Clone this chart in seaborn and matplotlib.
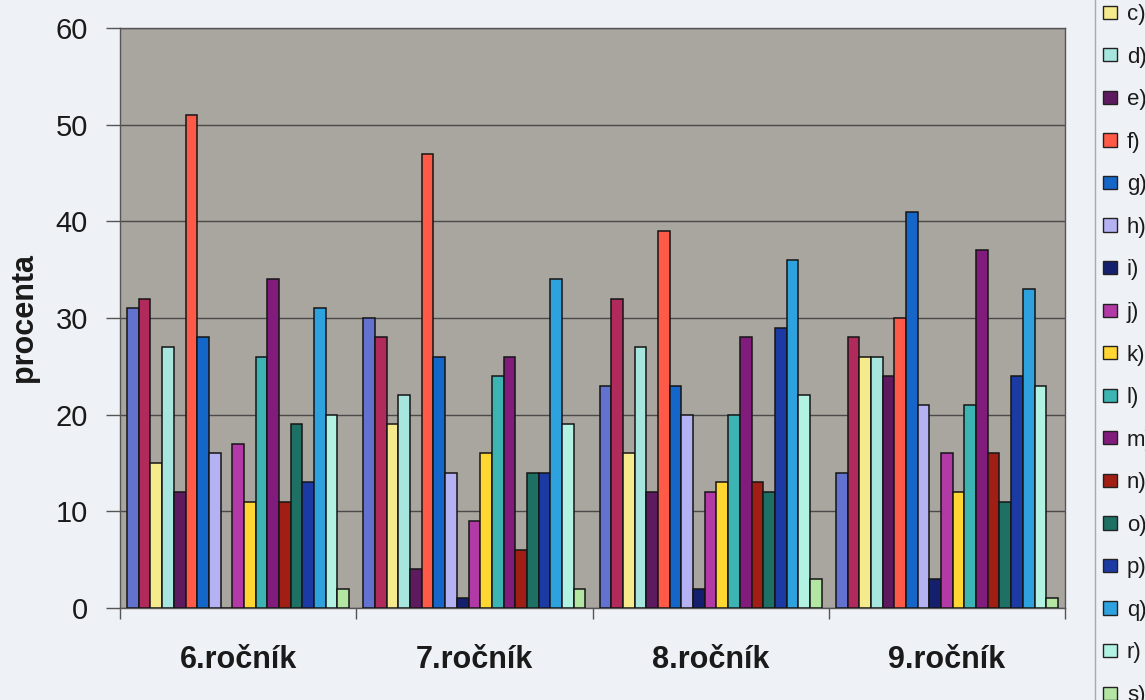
import numpy as np
import pandas as pd
import matplotlib
matplotlib.use("Agg")
import matplotlib.pyplot as plt
import seaborn as sns
from matplotlib.patches import Patch

# Grades (groups on the x axis)
grades = ["6.ročník", "7.ročník", "8.ročník", "9.ročník"]

# Answer options (one bar per option in each grade)
options = ["a)", "b)", "c)", "d)", "e)", "f)", "g)", "h)", "i)", "j)",
           "k)", "l)", "m)", "n)", "o)", "p)", "q)", "r)", "s)"]

# Percent of pupils choosing each option, per grade
grade6 = [31, 32, 15, 27, 12, 51, 28, 16, 0, 17, 11, 26, 34, 11, 19, 13, 31, 20, 2]
grade7 = [30, 28, 19, 22, 4, 47, 26, 14, 1, 9, 16, 24, 26, 6, 14, 14, 34, 19, 2]
grade8 = [23, 32, 16, 27, 12, 39, 23, 20, 2, 12, 13, 20, 28, 13, 12, 29, 36, 22, 3]
grade9 = [14, 28, 26, 26, 24, 30, 41, 21, 3, 16, 12, 21, 37, 16, 11, 24, 33, 23, 1]

option_colors = ["#6272CE", "#B02A5C", "#F6EB8C", "#A6E6DE", "#5E1A5E",
                 "#FF5A48", "#1466C8", "#B4B2F2", "#14206E", "#B23AA6",
                 "#FFD632", "#3CB4B4", "#821C7C", "#A01E14", "#1E7064",
                 "#1C3AA4", "#2EA2DE", "#B2F2E2", "#B2E6A2"]

rows = []
for grade, vals in zip(grades, [grade6, grade7, grade8, grade9]):
    for opt, v in zip(options, vals):
        rows.append({"ročník": grade, "možnost": opt, "procenta": v})
df = pd.DataFrame(rows)

sns.set_theme(style="white")
plt.rcParams["font.family"] = ["Liberation Sans", "DejaVu Sans"]

fig_bg = "#EEF1F5"
fig = plt.figure(figsize=(11.45, 7.0), dpi=100, facecolor=fig_bg)
ax = fig.add_axes([120 / 1145, 1 - 608 / 700, 945 / 1145, 580 / 700])
ax.set_facecolor("#A9A6A0")

sns.barplot(data=df, x="ročník", y="procenta", hue="možnost",
            order=grades, hue_order=options, palette=option_colors,
            saturation=1, width=0.94, edgecolor="#151515", linewidth=1.1,
            legend=False, ax=ax, zorder=3)

ax.set_xlim(-0.5, 3.5)
ax.set_ylim(0, 60)
ax.set_yticks(np.arange(0, 61, 10))
ax.yaxis.grid(True, color="#4A4A4A", linewidth=1.0, zorder=0)
ax.set_axisbelow(True)

# group separators as major ticks, grade names centred as minor ticks
ax.set_xticks(np.arange(-0.5, 3.6, 1.0))
ax.set_xticklabels([])
ax.set_xticks(np.arange(4), minor=True)
ax.set_xticklabels(grades, minor=True, fontsize=22, fontweight="bold",
                   color="#1A1A1A")
ax.tick_params(axis="x", which="major", length=8, width=1, color="#555555",
               direction="out", bottom=True)
ax.tick_params(axis="x", which="minor", length=0, pad=27)
ax.tick_params(axis="y", length=10, width=1, color="#555555", direction="out",
               left=True, labelsize=21, labelcolor="#1A1A1A", pad=13)

ax.set_xlabel("")
ax.set_ylabel("procenta", fontsize=22, fontweight="bold", color="#1A1A1A",
              labelpad=12)

for side in ["left", "bottom", "right", "top"]:
    ax.spines[side].set_visible(True)
    ax.spines[side].set_color("#555555")
    ax.spines[side].set_linewidth(1.0)

handles = [Patch(facecolor=c, edgecolor="#222222", linewidth=1.0)
           for c in option_colors]
fig.legend(handles, options, loc="upper left",
           bbox_to_anchor=(1095 / 1145, 1 + 89 / 700),
           fontsize=16, frameon=True, facecolor=fig_bg, edgecolor="#999999",
           fancybox=False, handlelength=0.63, handleheight=0.54,
           handletextpad=0.45, labelspacing=0.97, borderpad=0.36,
           borderaxespad=0.0, labelcolor="#1A1A1A")

fig.savefig("out.png", dpi=100, facecolor=fig_bg)
